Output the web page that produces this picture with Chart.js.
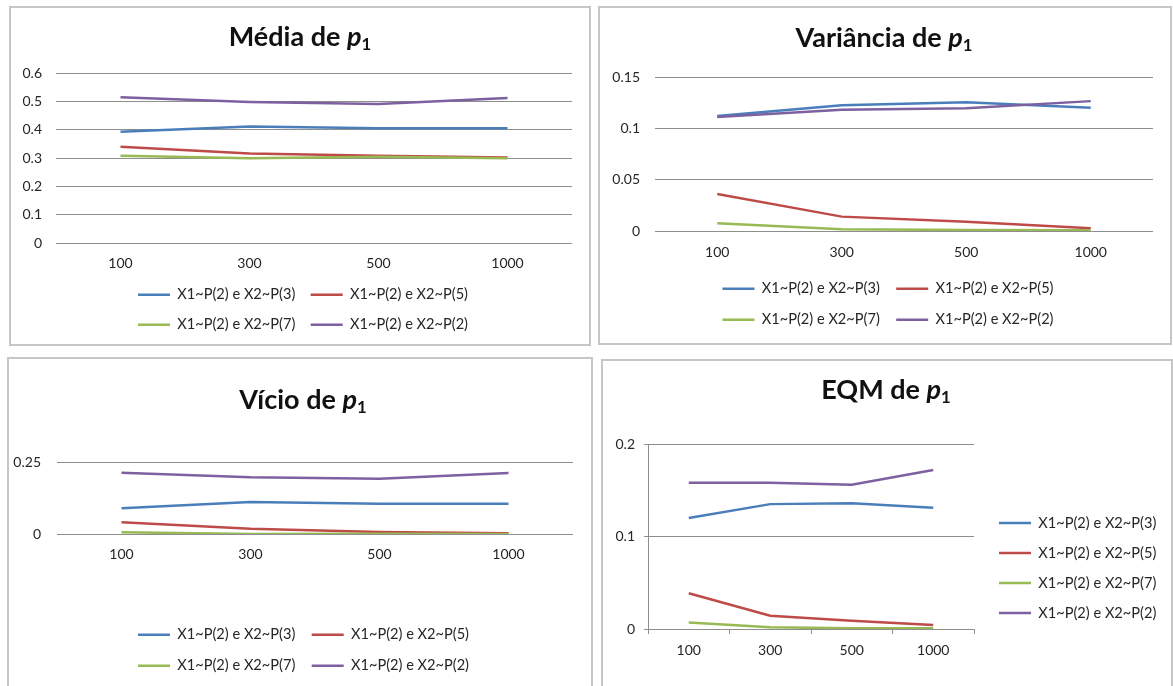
<!DOCTYPE html>
<html>
<head>
<meta charset="utf-8">
<script src="https://cdn.jsdelivr.net/npm/chart.js@4.4.1/dist/chart.umd.min.js"></script>
<style>
html,body{margin:0;padding:0;background:#fff;}
body{width:1173px;height:686px;overflow:hidden;position:relative;}
.panel{position:absolute;box-sizing:border-box;border:2px solid #c6c6c6;background:#fff;}
canvas{position:absolute;}
.title{position:absolute;transform:translateX(-50%);font:bold 27px/27px Lato,"Noto Sans",sans-serif;color:#111;white-space:nowrap;}
.title i{font-style:italic;}
.title sub{font-size:0.62em;vertical-align:baseline;position:relative;top:0.25em;}
</style>
</head>
<body>
<div class="panel" style="left:9px;top:6px;width:582px;height:340px"></div>
<div class="panel" style="left:598px;top:6px;width:574px;height:339px"></div>
<div class="panel" style="left:7px;top:357px;width:586px;height:400px"></div>
<div class="panel" style="left:601px;top:359px;width:572px;height:400px"></div>

<canvas id="cMedia" width="578" height="336" style="left:11px;top:8px"></canvas>
<canvas id="cVar" width="570" height="335" style="left:600px;top:8px"></canvas>
<canvas id="cVicio" width="582" height="327" style="left:9px;top:359px"></canvas>
<canvas id="cEqm" width="568" height="325" style="left:603px;top:361px"></canvas>

<div class="title" style="left:300px;top:22px">Média de <i>p</i><sub>1</sub></div>
<div class="title" style="left:884px;top:23px">Variância de <i>p</i><sub>1</sub></div>
<div class="title" style="left:303px;top:385px">Vício de <i>p</i><sub>1</sub></div>
<div class="title" style="left:886px;top:375px">EQM de <i>p</i><sub>1</sub></div>

<script>
// ---- data ----
const sampleSizes = ['100', '300', '500', '1000'];
const seriesNames = ['X1~P(2) e X2~P(3)', 'X1~P(2) e X2~P(5)', 'X1~P(2) e X2~P(7)', 'X1~P(2) e X2~P(2)'];
const seriesColors = ['#4A7EBB', '#BE4B48', '#98B954', '#7D60A0'];

const mediaP3 = [0.393, 0.411, 0.405, 0.405];
const mediaP5 = [0.340, 0.316, 0.308, 0.302];
const mediaP7 = [0.308, 0.299, 0.304, 0.299];
const mediaP2 = [0.514, 0.498, 0.491, 0.512];
const mediaTicks = [0, 0.1, 0.2, 0.3, 0.4, 0.5, 0.6];

const varP3 = [0.112, 0.1225, 0.1255, 0.120];
const varP5 = [0.036, 0.014, 0.009, 0.0027];
const varP7 = [0.0075, 0.0016, 0.0010, 0.0008];
const varP2 = [0.111, 0.118, 0.1195, 0.1265];
const varTicks = [0, 0.05, 0.1, 0.15];

const vicioP3 = [0.089, 0.111, 0.105, 0.105];
const vicioP5 = [0.041, 0.018, 0.007, 0.003];
const vicioP7 = [0.006, 0.000, 0.001, 0.000];
const vicioP2 = [0.213, 0.197, 0.192, 0.212];
const vicioTicks = [0, 0.25];

const eqmP3 = [0.120, 0.135, 0.136, 0.131];
const eqmP5 = [0.0386, 0.0144, 0.0088, 0.0043];
const eqmP7 = [0.0069, 0.0018, 0.0008, 0.0007];
const eqmP2 = [0.158, 0.158, 0.156, 0.172];
const eqmTicks = [0, 0.1, 0.2];

// ---- styling ----
const textColor = '#262626';
const gridColor = '#8e8e8e';
const axisColor = '#8e8e8e';
const legendFontSize = 14.6;
Chart.defaults.font.family = "Lato, 'Noto Sans', sans-serif";
Chart.defaults.color = textColor;

function legendShift(dx, dy) {
  return {
    id: 'legendShift',
    afterLayout(chart) {
      const l = chart.legend;
      if (!l) return;
      l.left += dx; l.right += dx; l.top += dy; l.bottom += dy;
    }
  };
}

function build(id, series, ticks, p) {
  const datasets = series.map((d, i) => ({
    label: seriesNames[i],
    data: d,
    borderColor: seriesColors[i],
    backgroundColor: seriesColors[i],
    borderWidth: 2.5,
    pointRadius: 0,
    pointHoverRadius: 0,
    tension: 0,
    fill: false,
    order: series.length - i
  }));
  const framed = !!p.framed;
  return new Chart(document.getElementById(id), {
    type: 'line',
    data: { labels: sampleSizes, datasets },
    options: {
      responsive: false,
      animation: false,
      events: [],
      layout: { padding: p.pad },
      plugins: {
        title: { display: false },
        tooltip: { enabled: false },
        legend: {
          position: p.legendPos,
          fullSize: p.legendFull,
          labels: {
            usePointStyle: true,
            pointStyle: 'line',
            pointStyleWidth: 32,
            boxWidth: 32,
            padding: p.legendPad,
            font: { size: legendFontSize },
            color: textColor,
            sort: (a, b) => a.datasetIndex - b.datasetIndex
          }
        }
      },
      scales: {
        x: {
          type: 'category',
          offset: true,
          grid: { display: framed, drawOnChartArea: false, drawTicks: framed, tickLength: 5, offset: true, color: axisColor },
          border: { display: framed, color: axisColor, width: 1 },
          ticks: { padding: p.xPad, font: { size: 14 }, color: textColor, maxRotation: 0, autoSkip: false },
          afterFit: s => { s.height = p.xH; }
        },
        y: {
          min: ticks[0],
          max: ticks[ticks.length - 1],
          grid: { color: gridColor, lineWidth: 1, drawTicks: framed, tickLength: 4 },
          border: { display: framed, color: axisColor, width: 1 },
          ticks: {
            padding: p.yPad, font: { size: 14 }, color: textColor,
            callback: v => String(Math.round(v * 10000) / 10000)
          },
          afterBuildTicks: s => { s.ticks = ticks.map(v => ({ value: v })); },
          afterFit: s => { s.width = p.yW; }
        }
      }
    },
    plugins: [legendShift(p.dx, p.dy)]
  });
}

build('cMedia', [mediaP3, mediaP5, mediaP7, mediaP2], mediaTicks, {
  pad: { left: 0, top: 65, right: 17, bottom: 2 },
  yW: 45, yPad: 14, xH: 29, xPad: 12,
  legendPos: 'bottom', legendFull: false, legendPad: 15.4, dx: -11, dy: 0
});

build('cVar', [varP3, varP5, varP7, varP2], varTicks, {
  pad: { left: 0, top: 69, right: 17, bottom: 6 },
  yW: 55, yPad: 15, xH: 34, xPad: 13.5,
  legendPos: 'bottom', legendFull: false, legendPad: 16.4, dx: -16, dy: 0
});

build('cVicio', [vicioP3, vicioP5, vicioP7, vicioP2], vicioTicks, {
  pad: { left: 0, top: 103, right: 18, bottom: 3 },
  yW: 48, yPad: 16, xH: 77, xPad: 11.6,
  legendPos: 'bottom', legendFull: false, legendPad: 16.4, dx: -11.5, dy: 0
});

build('cEqm', [eqmP3, eqmP5, eqmP7, eqmP2], eqmTicks, {
  pad: { left: 0, top: 83, right: 197, bottom: 0 },
  yW: 45, yPad: 9, xH: 57, xPad: 7.6,
  legendPos: 'chartArea', legendFull: false, legendPad: 15.4, dx: 335.6, dy: 114.5,
  framed: true
});
</script>
</body>
</html>
